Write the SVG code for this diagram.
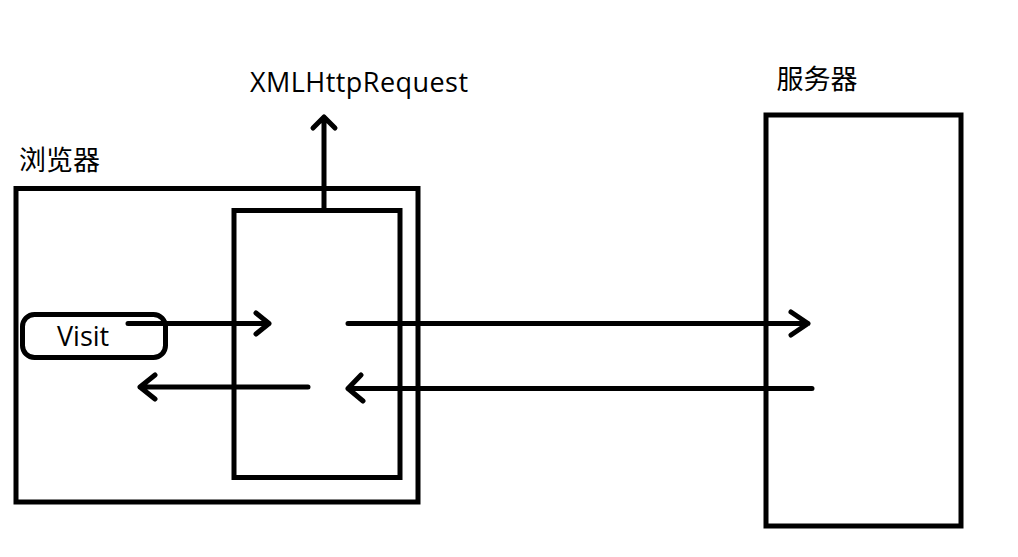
<svg xmlns="http://www.w3.org/2000/svg" width="1018" height="557" viewBox="0 0 1018 557">
<style>
.box{fill:none;stroke:#000;stroke-width:5}
.ln{fill:none;stroke:#000;stroke-width:5;stroke-linecap:round;stroke-linejoin:round}
.lat{font-family:"Open Sans","Noto Sans",sans-serif;font-size:27px;fill:#000}
.cjk{font-family:"Noto Sans CJK SC",sans-serif;font-size:27px;fill:#000}
</style>
<rect width="1018" height="557" fill="#fff"/>
<g id="browser">
<rect class="box" x="16" y="188.5" width="402" height="313.5"/>
<text class="cjk" x="19" y="169.5">浏览器</text>
</g>
<g id="xhr">
<rect class="box" x="234" y="210.5" width="166" height="267"/>
</g>
<g id="visit">
<rect class="box" x="22.5" y="314.5" width="143" height="43" rx="12"/>
<text class="lat" x="57" y="346">Visit</text>
</g>
<g id="server">
<rect class="box" x="766" y="115" width="195" height="411"/>
<text class="cjk" x="776.5" y="88.5">服务器</text>
</g>
<g id="xhr-label">
<text class="lat" x="250" y="92" textLength="218" lengthAdjust="spacing">XMLHttpRequest</text>
</g>
<g id="connectors">
<path class="ln" d="M324 210V117M313 128L324 117L335 128"/>
<path class="ln" d="M128 323.5H269M256 313L269 323.5L256 334"/>
<path class="ln" d="M308 387H140M155 375L140 387L155 399"/>
<path class="ln" d="M348 323.5H808M791 312L808 323.5L791 335"/>
<path class="ln" d="M812 388.5H348M361 375L348 388.5L363 401"/>
</g>
</svg>
